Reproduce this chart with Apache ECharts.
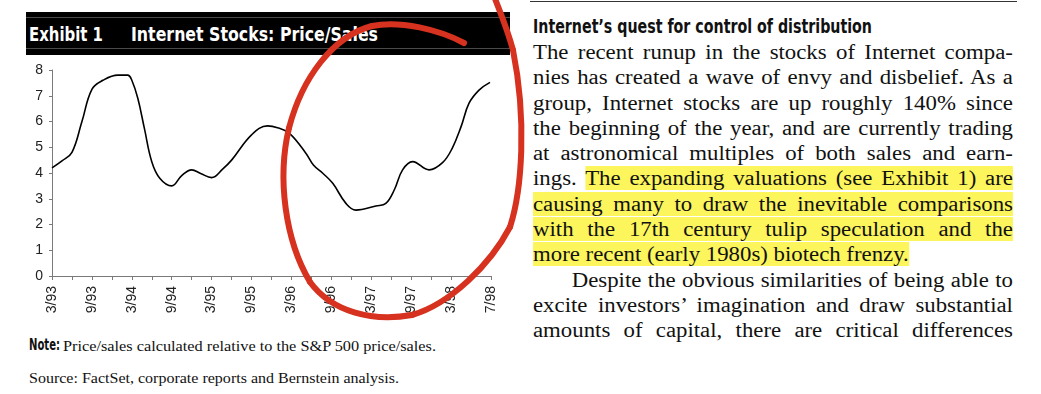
<!DOCTYPE html>
<html>
<head>
<meta charset="utf-8">
<script src="https://cdn.jsdelivr.net/npm/echarts@6/dist/echarts.min.js"></script>
<style>
  html, body { margin: 0; padding: 0; background: #fff; width: 1041px; height: 394px; overflow: hidden; position: relative; }
  .abs { position: absolute; white-space: nowrap; }
  .narrowb { font-family: "Liberation Sans Narrow", "DejaVu Sans Condensed", "Liberation Sans", sans-serif; font-weight: bold; }
  .serif { font-family: "Liberation Serif", "DejaVu Serif", serif; }
  .fit { display: inline-block; transform-origin: 0 0; }
  #titlebar { position: absolute; left: 26px; top: 12px; width: 484px; height: 43px; background: #000; }
  #titlebar .ln1 { position: absolute; left: 0; right: 0; top: 5px; height: 0; border-top: 1px solid #4a4a4a; }
  #titlebar .ln2 { position: absolute; left: 0; right: 0; top: 36px; height: 0; border-top: 1px solid #4a4a4a; }
  #para { position: absolute; left: 533px; top: 40px; width: 421px; font-size: 20px; line-height: 25.3px; color: #111; transform: scaleX(1.14); transform-origin: 0 0; }
  #para .l { white-space: nowrap; text-align: justify; text-align-last: justify; }
  #para .l.left { text-align: left; text-align-last: left; }
  .hl { background: #fcf55c; padding: 1px 0; }
  #chart { position: absolute; left: 0; top: 0; width: 1041px; height: 394px; z-index: 2; pointer-events: none; }
</style>
</head>
<body>
<div id="titlebar"><div class="ln1"></div><div class="ln2"></div></div>
<div class="abs narrowb" style="left:29px; top:25px; font-size:19.5px; line-height:19.5px; color:#fff;"><span class="fit" data-w="74">Exhibit 1</span></div>
<div class="abs narrowb" style="left:131px; top:25px; font-size:19.5px; line-height:19.5px; color:#fff;"><span class="fit" data-w="247">Internet Stocks: Price/Sales</span></div>

<div class="abs" style="left:530px; top:1px; width:487px; height:0; border-top:1px solid #333;"></div>
<div class="abs narrowb" style="left:533px; top:17px; font-size:19px; line-height:19px; color:#111;"><span class="fit" data-w="339">Internet’s quest for control of distribution</span></div>

<div id="para" class="serif">
  <div class="l">The recent runup in the stocks of Internet compa-</div>
  <div class="l">nies has created a wave of envy and disbelief. As a</div>
  <div class="l">group, Internet stocks are up roughly 140% since</div>
  <div class="l">the beginning of the year, and are currently trading</div>
  <div class="l">at astronomical multiples of both sales and earn-</div>
  <div class="l">ings. <span class="hl">The expanding valuations (see Exhibit 1) are</span></div>
  <div class="l"><span class="hl">causing many to draw the inevitable comparisons</span></div>
  <div class="l"><span class="hl">with the 17th century tulip speculation and the</span></div>
  <div class="l left"><span class="hl">more recent (early 1980s) biotech frenzy.</span></div>
  <div class="l" style="padding-left:34px;">Despite the obvious similarities of being able to</div>
  <div class="l">excite investors’ imagination and draw substantial</div>
  <div class="l">amounts of capital, there are critical differences</div>
</div>

<div class="abs narrowb" style="left:29px; top:338px; font-size:15px; line-height:15.5px; color:#111;"><span class="fit" data-w="31">Note:</span></div>
<div class="abs serif" style="left:63px; top:338px; font-size:15.5px; line-height:15.5px; color:#111;"><span class="fit" data-w="373">Price/sales calculated relative to the S&amp;P 500 price/sales.</span></div>
<div class="abs serif" style="left:29px; top:370px; font-size:15.5px; line-height:15.5px; color:#111;"><span class="fit" data-w="370">Source: FactSet, corporate reports and Bernstein analysis.</span></div>

<div id="chart"></div>
<script>
// ---- data ----
const xTickLabels = ['3/93','9/93','3/94','9/94','3/95','9/95','3/96','9/96','3/97','9/97','3/98','7/98'];
// position along the time axis, in quarters from 3/93
const quarterPos = [0, 0.5, 1, 1.5, 2, 2.55, 3.3, 3.8, 4, 4.3, 4.63, 5, 5.4, 6, 6.5, 7, 7.45, 8, 8.55, 9, 10, 10.8,
  11.3, 11.9, 12.73, 13.1, 13.57, 14.07, 14.73, 15.23, 16.23, 16.73, 17.15, 17.57, 18.07, 18.9, 19.57, 20.05, 20.5, 20.9, 21.4, 21.95];
const priceSales = [4.2, 4.47, 4.8, 6.0, 7.25, 7.6, 7.8, 7.8, 7.6, 6.9, 5.73, 4.44, 3.8, 3.5, 3.9, 4.12, 3.98, 3.82, 4.15, 4.5, 5.48, 5.83,
  5.76, 5.54, 4.76, 4.31, 3.99, 3.6, 2.82, 2.56, 2.72, 2.82, 3.34, 4.12, 4.44, 4.12, 4.4, 4.95, 5.8, 6.71, 7.22, 7.52];
const yTicks = { min: 0, max: 8, interval: 1 };

// fit text widths
document.querySelectorAll('.fit').forEach(el => {
  const w = el.getBoundingClientRect().width;
  const t = parseFloat(el.dataset.w);
  if (w > 0) el.style.transform = 'scaleX(' + (t / w) + ')';
});

// hand-drawn red annotation loop (bezier segments)
const penSegments = [
  [464,43, 440,30, 400,20, 372,26],
  [372,26, 333,36, 302,78, 289,128],
  [289,128, 277,178, 285,240, 310,282],
  [310,282, 332,312, 372,322, 412,315],
  [412,315, 450,304, 490,265, 510,227],
  [510,227, 522,190, 527,120, 513,50],
  [513,50, 507,28, 500,12, 494,-4]
];

const chart = echarts.init(document.getElementById('chart'), null, { renderer: 'canvas' });
const axisGray = '#7a7a7a';
chart.setOption({
  animation: false,
  grid: { left: 52, top: 70, width: 439, height: 206, outerBoundsMode: 'none', containLabel: false },
  xAxis: {
    type: 'value', min: 0, max: 22, interval: 1,
    splitLine: { show: false },
    axisLine: { show: true, lineStyle: { color: axisGray, width: 1 } },
    axisTick: { show: true, length: 4, lineStyle: { color: axisGray } },
    axisLabel: {
      rotate: 90, margin: 10, fontSize: 14, color: '#222',
      fontFamily: 'Liberation Sans, Arial, sans-serif',
      showMinLabel: true, showMaxLabel: true,
      formatter: v => (Math.round(v) % 2 === 0 ? (xTickLabels[Math.round(v) / 2] || '') : '')
    }
  },
  yAxis: {
    type: 'value', min: yTicks.min, max: yTicks.max, interval: yTicks.interval,
    splitLine: { show: false },
    axisLine: { show: true, lineStyle: { color: axisGray, width: 1 } },
    axisTick: { show: true, length: 3, lineStyle: { color: axisGray } },
    axisLabel: { margin: 9, fontSize: 14, color: '#222', fontFamily: 'Liberation Sans, Arial, sans-serif' }
  },
  series: [{
    type: 'line', smooth: 0.4, showSymbol: false,
    lineStyle: { color: '#000', width: 1.6 },
    data: quarterPos.map((q, i) => [q, priceSales[i]])
  }],
  graphic: penSegments.map(s => ({
    type: 'bezierCurve', z: 100,
    shape: { x1: s[0], y1: s[1], cpx1: s[2], cpy1: s[3], cpx2: s[4], cpy2: s[5], x2: s[6], y2: s[7] },
    style: { stroke: '#d6321f', lineWidth: 6, fill: null, lineCap: 'round' }
  }))
});
</script>
</body>
</html>
